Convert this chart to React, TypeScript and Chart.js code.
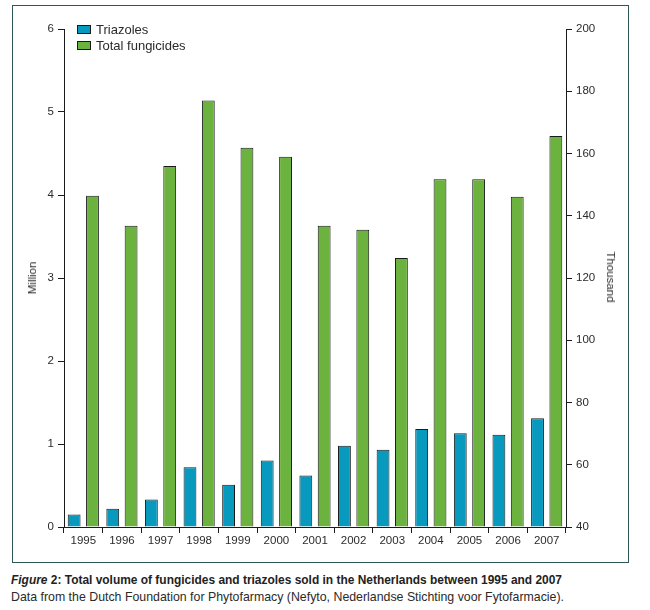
import React, { useEffect, useLayoutEffect, useRef } from "react";
import { Chart, registerables } from "chart.js";
Chart.register(...registerables);

const years = ["1995", "1996", "1997", "1998", "1999", "2000", "2001", "2002", "2003", "2004", "2005", "2006", "2007"];
const triazoles = [0.15, 0.22, 0.33, 0.72, 0.51, 0.8, 0.62, 0.98, 0.93, 1.18, 1.13, 1.11, 1.31];
const totalFungicides = [3.99, 3.63, 4.35, 5.14, 4.57, 4.46, 3.63, 3.58, 3.24, 4.19, 4.19, 3.98, 4.71];
const leftAxis = { min: 0, max: 6, step: 1, title: "Million" };
const rightAxis = { min: 40, max: 200, step: 20, title: "Thousand" };
const seriesNames = ["Triazoles", "Total fungicides"];
const captionBold = "Total volume of fungicides and triazoles sold in the Netherlands between 1995 and 2007";
const captionLine2 = "Data from the Dutch Foundation for Phytofarmacy (Nefyto, Nederlandse Stichting voor Fytofarmacie).";

const BLUE = "#0899bf";
const GREEN = "#6cb23e";
const INK = "#1a1a1a";
const TXT = "#2b2b2b";
const FONT = "'Liberation Sans', Arial, sans-serif";
const NARROW = "'Liberation Sans Narrow', 'Liberation Sans', Arial, sans-serif";

function FitLine(props: { width: number; top: number; left: number; style: React.CSSProperties; children: React.ReactNode }) {
  const ref = useRef<HTMLSpanElement>(null);
  useLayoutEffect(() => {
    const el = ref.current;
    if (!el) return;
    el.style.transform = "none";
    const w = el.getBoundingClientRect().width;
    if (w > 0) el.style.transform = `scaleX(${props.width / w})`;
  });
  return (
    <span
      ref={ref}
      style={{
        position: "absolute",
        left: props.left,
        top: props.top,
        whiteSpace: "nowrap",
        transformOrigin: "0 0",
        display: "inline-block",
        ...props.style,
      }}
    >
      {props.children}
    </span>
  );
}

export default function App() {
  const canvasRef = useRef<HTMLCanvasElement>(null);

  useEffect(() => {
    const ctx = canvasRef.current;
    if (!ctx) return;
    const tickFont = { family: FONT, size: 11.5 };
    const chart = new Chart(ctx, {
      type: "bar",
      data: {
        labels: years,
        datasets: [
          {
            label: seriesNames[0],
            data: triazoles,
            backgroundColor: BLUE,
            borderColor: INK,
            borderWidth: 1,
            categoryPercentage: 0.95,
            barPercentage: 0.7,
            yAxisID: "y",
          },
          {
            label: seriesNames[1],
            data: totalFungicides,
            backgroundColor: GREEN,
            borderColor: INK,
            borderWidth: 1,
            categoryPercentage: 0.95,
            barPercentage: 0.7,
            yAxisID: "y",
          },
        ],
      },
      options: {
        responsive: false,
        animation: false,
        layout: { padding: { top: 29, left: 0, right: 0, bottom: 0 } },
        plugins: { legend: { display: false }, tooltip: { enabled: false } },
        scales: {
          x: {
            grid: { offset: true, drawOnChartArea: false, tickLength: 6, color: INK, lineWidth: 1 },
            border: { color: INK, width: 1 },
            ticks: { color: TXT, font: tickFont, padding: 1, maxRotation: 0, autoSkip: false },
            afterFit: (s: any) => {
              s.height = 38;
            },
          },
          y: {
            position: "left",
            min: leftAxis.min,
            max: leftAxis.max,
            ticks: { stepSize: leftAxis.step, color: TXT, font: tickFont, padding: 4 },
            grid: { drawOnChartArea: false, tickLength: 6, color: INK },
            border: { color: INK, width: 1 },
            afterFit: (s: any) => {
              s.width = 64;
            },
          },
          y2: {
            position: "right",
            min: rightAxis.min,
            max: rightAxis.max,
            ticks: { stepSize: rightAxis.step, color: TXT, font: tickFont, padding: 4 },
            grid: { drawOnChartArea: false, tickLength: 6, color: INK },
            border: { color: INK, width: 1 },
            afterFit: (s: any) => {
              s.width = 84;
            },
          },
        },
      },
    } as any);
    return () => chart.destroy();
  }, []);

  const legendBox = (color: string, top: number): React.CSSProperties => ({
    position: "absolute",
    left: 77,
    top,
    width: 12,
    height: 7,
    background: color,
    border: `1px solid ${INK}`,
  });
  const legendText = (top: number): React.CSSProperties => ({
    position: "absolute",
    left: 96,
    top,
    font: `13px ${NARROW}`,
    color: TXT,
    lineHeight: "15px",
    whiteSpace: "nowrap",
  });

  return (
    <div style={{ position: "absolute", left: 0, top: 0, width: 650, height: 610, background: "#fff", overflow: "hidden" }}>
      <div
        style={{
          position: "absolute",
          left: 12,
          top: 5,
          width: 617,
          height: 558,
          boxSizing: "border-box",
          border: "1px solid #2f5757",
        }}
      />
      <canvas ref={canvasRef} width={650} height={565} style={{ position: "absolute", left: 0, top: 0 }} />
      <div style={legendBox(BLUE, 25)} />
      <div style={legendText(22)}>{seriesNames[0]}</div>
      <div style={legendBox(GREEN, 41)} />
      <div style={legendText(38)}>{seriesNames[1]}</div>
      <div
        style={{
          position: "absolute",
          left: 32,
          top: 278,
          transform: "translate(-50%, -50%) rotate(-90deg)",
          font: `11.5px ${FONT}`,
          color: TXT,
          whiteSpace: "nowrap",
        }}
      >
        {leftAxis.title}
      </div>
      <div
        style={{
          position: "absolute",
          left: 611,
          top: 277,
          transform: "translate(-50%, -50%) rotate(90deg)",
          font: `11.5px ${FONT}`,
          color: TXT,
          whiteSpace: "nowrap",
        }}
      >
        {rightAxis.title}
      </div>
      <FitLine width={551} left={11} top={572} style={{ font: `bold 13px ${NARROW}`, color: "#222" }}>
        <i>Figure</i> 2: {captionBold}
      </FitLine>
      <FitLine width={553} left={11} top={589} style={{ font: `13px ${NARROW}`, color: "#2a2a2a" }}>
        {captionLine2}
      </FitLine>
    </div>
  );
}
